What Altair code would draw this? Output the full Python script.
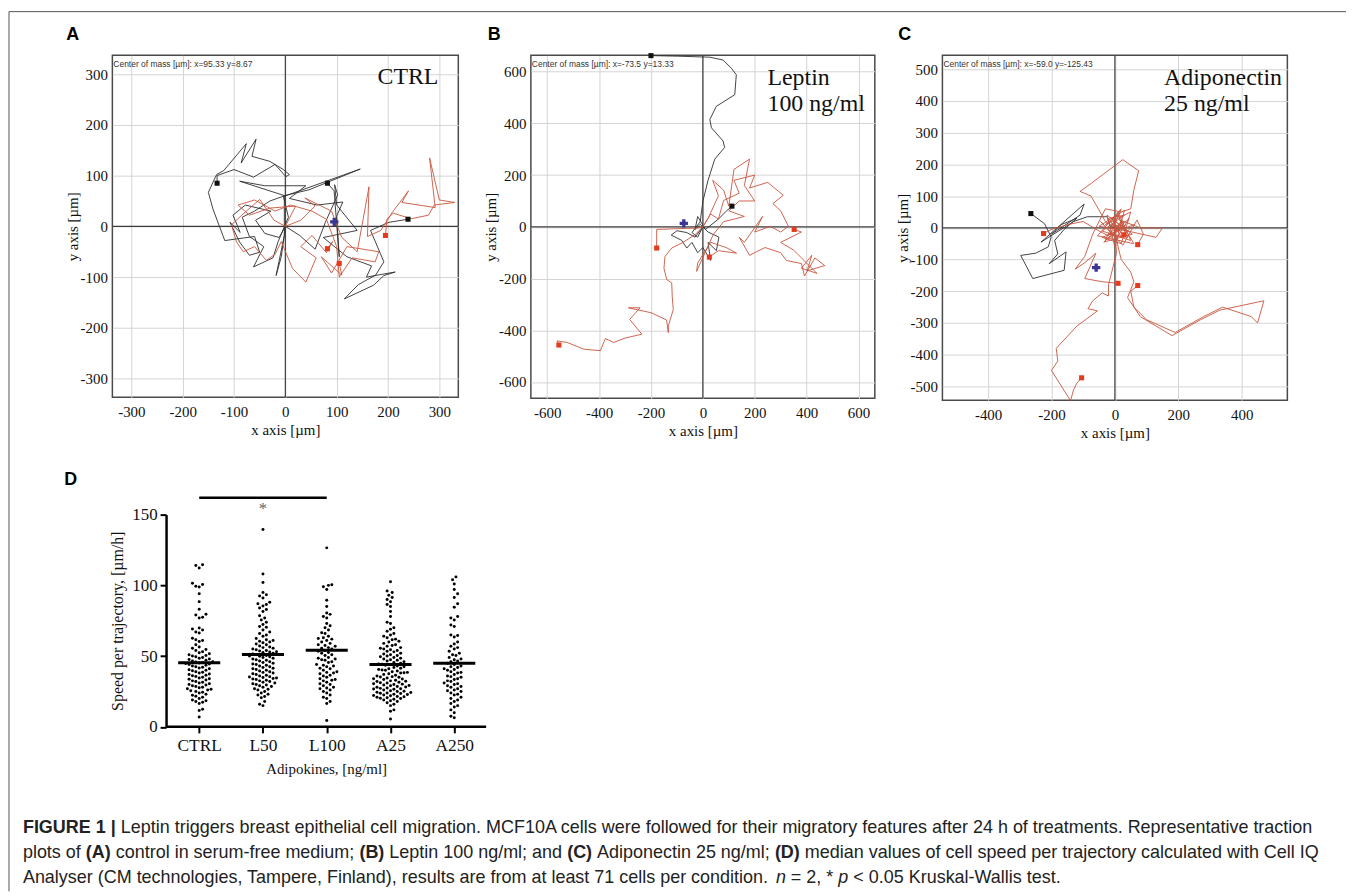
import json
import altair as alt
import pandas as pd

SERIF = "Liberation Serif"
SANS = "Liberation Sans"

# ---------------- Panel A (CTRL): trajectories (x, y) in µm ----------------
a_black_1 = [(0, 0), (-12, -22), (-40, -14), (-58, 12), (-28, 30), (-78, 42), (-102, 22), (-88, -12),
             (-108, 8), (-89, -31), (-70, -57), (-50, -51), (-60, -20), (-118, -28), (-141, 34), (-150, 67),
             (-134, 102), (-120, 110), (-76, 163), (-86, 125), (-57, 172), (-65, 138), (-30, 128), (-4, 112),
             (8, 102), (1, 98), (-20, 122), (-62, 97), (-100, 112), (-133, 100), (-133, 85)]
a_black_2 = [(0, 0), (-2, -18), (-18, -97), (-8, -60), (-2, -18), (-2, 60), (-30, 50), (-60, 30), (-84, 18),
             (-70, -20), (-42, -40), (-62, -80), (-24, -62), (-14, -30), (6, 18), (-4, 60), (46, 72),
             (146, 113), (0, 60), (-89, 89), (-40, 80), (40, 80), (8, 55), (62, 42), (112, 48), (100, 20),
             (105, -60), (95, 70), (82, 85)]
a_black_3 = [(0, 0), (28, -18), (58, -45), (78, 8), (102, 62), (96, 82), (100, 42), (140, -8), (74, -22),
             (120, -60), (168, -78), (158, -100), (214, -90), (192, -97), (172, -116), (115, -143),
             (142, -115), (176, -96), (192, -70), (166, -8), (202, 8), (239, 14)]
a_red_1 = [(0, 0), (30, 12), (58, 40), (38, 56), (90, 30), (110, -22), (140, -50), (163, 78), (160, -20),
           (186, -8), (208, 27), (240, 70), (227, 47), (292, 37), (281, 135), (300, 52), (330, 47),
           (290, 42), (279, 22), (245, 15), (210, 26), (198, 14), (195, -18)]
a_red_2 = [(0, 0), (-22, 12), (-50, 53), (-86, 21), (-105, 3), (-95, -31), (-82, -50), (-60, -40),
           (-37, -67), (-20, -55), (-8, -30), (14, -83), (40, -110), (60, -62), (30, -40), (52, -18),
           (80, -52), (92, -30), (82, -44)]
a_red_3 = [(0, 0), (20, 40), (-30, 36), (-70, 22), (-92, 42), (-60, 52), (-20, 30), (10, 42), (52, 30),
           (80, 14), (100, -40), (105, -100), (130, -62), (175, -70), (182, -50), (120, -40), (90, -92),
           (70, -60), (110, -96), (105, -73)]
a_center = (95.33, 8.67)

# ---------------- Panel B (Leptin 100 ng/ml) ----------------
b_black_1 = [(0, 0), (-20, -40), (-42, -22), (-10, 20), (-5, 62), (1, 102), (20, 180), (46, 262), (84, 307),
             (78, 332), (33, 383), (27, 415), (52, 466), (123, 511), (129, 588), (110, 613), (78, 645),
             (27, 656), (-100, 660), (-200, 662)]
b_black_2 = [(0, 0), (-30, -40), (-62, -22), (-100, -15), (-122, -32), (-82, -52), (-62, -82), (-42, -60),
             (-20, -100), (0, -80), (30, -130), (20, -60), (52, -92), (62, -40), (20, -20), (-10, 10),
             (-30, -10), (-20, 40), (10, -10), (60, 30), (90, 60), (112, 80)]
b_red_1 = [(0, 0), (-30, -30), (-80, -62), (-120, -82), (-146, -115), (-150, -160), (-139, -204),
           (-120, -217), (-118, -270), (-114, -320), (-133, -383), (-133, -409), (-140, -360), (-200, -332),
           (-287, -313), (-242, -313), (-282, -358), (-235, -415), (-300, -430), (-344, -447), (-376, -432),
           (-395, -479), (-459, -473), (-523, -447), (-562, -441), (-555, -457)]
b_red_2 = [(0, 0), (-20, -5), (-60, -6), (-120, -8), (-178, -10), (-178, -82)]
b_red_3 = [(0, 0), (20, 32), (60, 120), (38, 180), (80, 142), (100, 80), (120, 222), (180, 262), (160, 160),
           (200, 100), (140, 100), (100, 62), (160, 40), (80, 20), (40, -30), (-24, -172), (-20, -140),
           (30, -60), (90, -80), (130, -102), (60, -92), (25, -117)]
b_red_4 = [(0, 0), (30, 50), (60, 30), (80, 102), (140, 130), (120, 180), (200, 200), (180, 150), (250, 172),
           (310, 122), (270, 90), (300, 62), (330, 2), (300, -20), (260, 2), (200, -20), (230, 40), (160, -60),
           (140, -40), (180, -110), (240, -80), (300, -100), (322, -130), (380, -142), (392, -190),
           (432, -120), (470, -150), (402, -170), (420, -110), (380, -160), (440, -180), (350, -90),
           (300, -60), (380, -20), (352, -10)]
b_center = (-73.5, 13.33)

# ---------------- Panel C (Adiponectin 25 ng/ml) ----------------
c_black_1 = [(0, 0), (-15, 5), (-24, 35), (-87, 35), (-130, 20), (-233, -45), (-97, 75), (-110, 40),
             (-200, -20), (-170, 10), (-120, 30), (-160, -5), (-190, -40), (-180, -82), (-207, -113),
             (-154, -76), (-160, -134), (-259, -160), (-297, -87), (-250, -80), (-210, -60), (-201, -29),
             (-222, 13), (-265, 45)]
c_red_1 = [(0, 0), (20, 20), (-10, -30), (-50, -10), (-100, 20), (-150, 10), (-200, -5), (-225, -18)]
c_red_2 = [(0, 0), (30, 20), (-20, -20), (40, -30), (10, 40), (-30, 10), (50, 50), (20, -50), (-40, -30),
           (60, 10), (20, -30), (-10, 30), (40, -10), (-50, 5), (30, 55), (0, -60), (-25, 40), (55, -20),
           (-35, -45), (45, 30), (5, -35), (-45, 20), (25, -55), (70, 25), (90, -20), (72, -53)]
c_red_3 = [(0, 0), (-30, 20), (-75, 100), (-110, 115), (-75, 140), (25, 215), (75, 180), (60, 120), (50, 60),
           (20, 50), (-30, 60), (-70, -20), (-95, -90), (-125, -130), (-95, -110), (-60, -80), (-95, -160),
           (-40, -170), (10, -175)]
c_red_4 = [(0, 0), (10, -60), (20, -100), (50, -140), (60, -170), (40, -220), (80, -280), (180, -340),
           (270, -290), (330, -260), (470, -230), (450, -300), (430, -280), (340, -250), (280, -280),
           (190, -330), (100, -290), (60, -250), (50, -200), (72, -182)]
c_red_5 = [(0, 0), (5, -80), (-20, -180), (-20, -215), (-40, -205), (-70, -230), (-85, -255), (-55, -262),
           (-120, -310), (-185, -380), (-180, -420), (-200, -450), (-140, -545), (-130, -510), (-120, -490),
           (-105, -473)]
c_red_6 = [(0, 0), (-20, 30), (30, 40), (-40, -10), (50, -40), (10, 50), (-30, -40), (35, 10), (-15, -20),
           (20, 60), (-55, -25), (60, -50), (15, 25), (80, 0), (150, 0), (130, -30), (40, -10), (-10, 15),
           (28, -22)]
c_center = (-59.0, -125.43)

# ---------------- Panel D: speed per trajectory [µm/h] ----------------
categories = ["CTRL", "L50", "L100", "A25", "A250"]
ctrl_speed = [114.5, 114.0, 112.3, 101.5, 100.6, 99.4, 98.9, 94.0, 88.4, 83.2, 79.6, 79.0, 77.5, 77.0, 69.8,
              69.1, 68.4, 67.0, 66.4, 62.6, 61.5, 61.0, 60.4, 58.1, 56.4, 55.6, 54.6, 54.0, 53.1, 52.4, 51.6,
              51.0, 50.5, 50.0, 49.6, 49.1, 48.5, 48.0, 47.6, 47.0, 46.6, 46.1, 45.9, 45.5, 45.1, 44.8, 44.5,
              44.0, 43.6, 43.0, 42.5, 42.1, 41.6, 41.0, 40.4, 40.0, 39.6, 39.0, 38.6, 38.0, 37.4, 37.0, 36.5,
              36.1, 35.6, 35.0, 34.5, 34.0, 33.6, 33.1, 32.5, 32.0, 31.6, 31.0, 30.4, 30.0, 29.6, 29.1, 28.5,
              28.0, 27.6, 27.0, 26.5, 26.1, 25.6, 25.0, 24.4, 24.0, 23.1, 22.4, 21.6, 21.0, 20.1, 19.0, 18.5,
              18.0, 17.4, 16.5, 12.4, 11.6, 7.0]
l50_speed = [139.5, 108.0, 102.0, 95.0, 93.4, 92.5, 91.0, 88.1, 87.0, 86.5, 85.4, 84.0, 83.0, 81.5, 78.5,
             77.0, 75.5, 74.0, 72.4, 71.0, 70.4, 68.5, 67.1, 66.0, 65.0, 64.1, 62.5, 61.5, 61.0, 60.5, 60.0,
             59.5, 58.5, 58.0, 57.1, 56.5, 56.0, 55.5, 55.0, 54.5, 54.0, 53.6, 53.1, 52.9, 52.5, 52.0, 51.5,
             51.0, 50.5, 50.1, 49.9, 49.5, 49.0, 48.5, 48.0, 47.5, 47.0, 46.5, 46.0, 45.5, 45.0, 44.5, 44.0,
             43.5, 43.0, 42.5, 42.0, 41.5, 41.0, 40.5, 40.0, 39.5, 39.0, 38.5, 38.0, 37.5, 37.0, 36.5, 36.0,
             35.5, 35.2, 34.9, 34.5, 34.1, 33.9, 33.5, 33.0, 32.5, 32.0, 31.5, 31.0, 30.5, 30.0, 29.5, 29.0,
             28.5, 28.0, 27.0, 26.5, 26.0, 25.0, 24.0, 23.0, 22.5, 21.5, 20.5, 18.0, 16.0, 15.0]
l100_speed = [126.5, 100.5, 100.0, 99.0, 97.0, 89.5, 85.0, 80.5, 79.5, 78.0, 77.0, 73.0, 71.5, 70.0, 68.5,
              66.5, 66.0, 64.0, 63.0, 62.5, 62.0, 61.0, 60.0, 59.0, 58.0, 57.5, 57.0, 56.0, 55.5, 55.0, 54.0,
              53.5, 52.5, 52.0, 51.0, 50.5, 49.0, 48.5, 48.0, 47.5, 47.0, 46.0, 45.5, 44.0, 43.5, 43.0, 42.5,
              41.5, 41.0, 40.0, 39.0, 38.5, 38.0, 37.5, 36.5, 36.0, 35.0, 34.0, 33.5, 33.0, 32.5, 31.5, 30.5,
              30.0, 29.0, 28.0, 27.5, 27.0, 26.0, 25.0, 24.0, 22.5, 21.0, 20.0, 18.0, 16.5, 4.5]
a25_speed = [102.5, 96.0, 95.0, 93.0, 91.5, 90.0, 88.5, 86.5, 85.0, 81.5, 78.0, 74.0, 73.0, 70.0, 69.0, 67.5,
             66.0, 65.0, 64.0, 63.0, 62.0, 61.5, 60.5, 60.0, 59.0, 58.0, 57.5, 57.0, 56.0, 55.5, 55.0, 54.5,
             54.0, 53.5, 53.0, 52.0, 51.5, 51.0, 50.5, 50.0, 49.5, 49.0, 48.5, 48.0, 47.5, 47.0, 46.5, 46.0,
             45.5, 45.0, 44.5, 44.2, 44.0, 43.5, 43.0, 42.5, 42.0, 41.5, 41.0, 40.5, 40.2, 40.0, 39.5, 39.0,
             38.5, 38.2, 38.0, 37.5, 37.0, 36.5, 36.0, 35.5, 35.2, 35.0, 34.5, 34.0, 33.8, 33.5, 33.0, 32.5,
             32.2, 32.0, 31.5, 31.2, 31.0, 30.5, 30.2, 30.0, 29.5, 29.2, 29.0, 28.5, 28.2, 28.0, 27.5, 27.2,
             27.0, 26.8, 26.5, 26.0, 25.5, 25.2, 25.0, 24.5, 24.2, 24.0, 23.7, 23.5, 23.0, 22.8, 22.5, 22.2,
             22.0, 21.5, 21.2, 21.0, 20.5, 20.2, 20.0, 19.5, 19.0, 18.5, 18.0, 17.0, 16.0, 15.0, 12.0, 11.0,
             5.5]
a250_speed = [106.0, 104.0, 101.0, 97.0, 94.0, 91.5, 87.0, 84.5, 78.0, 77.0, 75.5, 72.0, 71.0, 65.0, 64.5,
              63.5, 60.0, 58.5, 57.0, 56.0, 55.0, 53.5, 52.0, 51.0, 50.5, 49.0, 48.0, 47.5, 46.5, 46.0, 45.0,
              44.0, 43.0, 42.5, 42.0, 41.0, 40.5, 40.0, 39.0, 38.5, 38.0, 37.0, 36.0, 35.5, 35.0, 34.0, 33.5,
              32.5, 32.0, 31.0, 30.5, 30.0, 29.0, 28.5, 28.0, 27.0, 26.0, 25.5, 25.0, 24.0, 23.0, 22.5, 21.0,
              20.0, 19.0, 18.0, 16.5, 15.0, 14.0, 12.0, 10.0, 7.5, 6.5]
medians = [45.3, 51.2, 54.2, 44.0, 45.0]
significance_pair = (0, 2)   # CTRL vs L100
significance_label = "*"

caption_lines = [
    [("FIGURE 1 |", "bold"),
     ("Leptin triggers breast epithelial cell migration. MCF10A cells were followed for their migratory "
      "features after 24 h of treatments. Representative traction", "normal")],
    [("plots of", "normal"), ("(A)", "bold"), ("control in serum-free medium;", "normal"), ("(B)", "bold"),
     ("Leptin 100 ng/ml; and", "normal"), ("(C)", "bold"), ("Adiponectin 25 ng/ml;", "normal"),
     ("(D)", "bold"), ("median values of cell speed per trajectory calculated with Cell IQ", "normal")],
    [("Analyser (CM technologies, Tampere, Finland), results are from at least 71 cells per condition.",
      "normal"), ("n", "italic"), ("= 2, *", "normal"), ("p", "italic"),
     ("< 0.05 Kruskal-Wallis test.", "normal")],
]

# ---------------- layout constants (page pixels) ----------------
COL1_X, ROW1_Y = 112, 52          # top-left of panel A plot area
D_LEFT, D_TOP = 166, 514          # D axes corner (x) and top of y range
CAPTION_LEFT, CAPTION_RIGHT = 22, 1321
CAPTION_Y = [829, 854.5, 880]
ONE = pd.DataFrame({"a": [0]})

# Arial / Liberation Sans advance widths (1/1000 em) for laying out caption segments
_W = {" ": 278, "(": 333, ")": 333, "*": 389, ",": 278, "-": 333, ".": 278, "/": 278, ";": 278, "<": 584,
      "=": 584, "|": 260, ":": 278, "µ": 556}
_W.update({d: 556 for d in "0123456789"})
_W.update(dict(zip("ABCDEFGHIJKLMNOPQRSTUVWXYZ",
                   [667, 667, 722, 722, 667, 611, 778, 722, 278, 500, 667, 556, 833, 722, 778, 667, 778, 722,
                    667, 611, 722, 667, 944, 667, 667, 611])))
_W.update(dict(zip("abcdefghijklmnopqrstuvwxyz",
                   [556, 556, 500, 556, 556, 278, 556, 556, 222, 222, 500, 222, 833, 556, 556, 556, 556, 333,
                    500, 278, 556, 500, 722, 500, 500, 500])))
_WB = dict(_W)
_WB.update({"|": 280, "A": 722, "B": 722, "C": 722, "D": 722, "E": 667, "F": 611, "G": 778, "I": 278,
            "R": 722, "U": 722})


def text_units(txt, style):
    table = _WB if style == "bold" else _W
    return sum(table.get(ch, 556) for ch in txt)


def line_units(segs):
    return sum(text_units(t, s) for t, s in segs) + _W[" "] * (len(segs) - 1)


CAP_FS = (CAPTION_RIGHT - CAPTION_LEFT) / line_units(caption_lines[0]) * 1000


def text_layer(txt, x, y, **kw):
    return alt.Chart(ONE).mark_text(text=txt, **kw).encode(x=alt.value(x), y=alt.value(y))


def axis_common(title, values, label_pad, title_pad):
    return alt.Axis(values=values, grid=True, gridColor="#d4d4d4", gridWidth=1, ticks=False, domain=False,
                    labelFont=SERIF, labelFontSize=15, labelColor="#111", labelPadding=label_pad,
                    labelExpr="'' + datum.value", labelFlush=False, labelOverlap=False,
                    title=title, titleFont=SERIF, titleFontSize=15, titleFontWeight="normal",
                    titleColor="#111", titlePadding=title_pad)


def traj_panel(tracks, center, dom, xt, yt, w, h, header, labels, letter, letter_xy):
    rows = []
    for name, kind, pts in tracks:
        for o, (x, y) in enumerate(pts):
            rows.append({"track": name, "kind": kind, "o": o, "x": x, "y": y})
    df = pd.DataFrame(rows)
    ends = df.groupby("track").tail(1)
    X = alt.X("x:Q", scale=alt.Scale(domain=dom, nice=False, zero=False),
              axis=axis_common("x axis [µm]", xt, 7, 3))
    Y = alt.Y("y:Q", scale=alt.Scale(domain=dom, nice=False, zero=False),
              axis=axis_common("y axis [µm]", yt, 5, 0))
    layers = [
        alt.Chart(pd.DataFrame({"x": [0]})).mark_rule(color="#3c3c3c", strokeWidth=1.2).encode(x=X),
        alt.Chart(pd.DataFrame({"y": [0]})).mark_rule(color="#3c3c3c", strokeWidth=1.2).encode(y=Y),
        alt.Chart(df[df.kind == "black"]).mark_line(color="#2e2e2e", strokeWidth=0.9).encode(
            x=X, y=Y, detail="track:N", order="o:Q"),
        alt.Chart(df[df.kind == "red"]).mark_line(color="#c8553d", strokeWidth=0.9).encode(
            x=X, y=Y, detail="track:N", order="o:Q"),
        alt.Chart(ends[ends.kind == "black"]).mark_square(color="#111111", size=26, opacity=1).encode(x=X, y=Y),
        alt.Chart(ends[ends.kind == "red"]).mark_square(color="#e63a1e", size=26, opacity=1).encode(x=X, y=Y),
        alt.Chart(pd.DataFrame({"x": [center[0]], "y": [center[1]]})).mark_point(
            shape="cross", filled=True, size=70, color="#3b3593", opacity=1).encode(x=X, y=Y),
        text_layer(header, 1, 9, font=SANS, fontSize=8.5, align="left", baseline="middle", color="#333"),
        text_layer(letter, letter_xy[0], letter_xy[1], font=SANS, fontSize=18, fontWeight="bold",
                   align="center", baseline="middle", color="#000"),
    ]
    for txt, lx, ly, al in labels:
        layers.append(text_layer(txt, lx, ly, font=SERIF, fontSize=24, align=al, baseline="alphabetic",
                                 color="#111"))
    return alt.layer(*layers).properties(
        width=w, height=h, view=alt.ViewBackground(stroke="#4a4a4a", strokeWidth=1.5))


panel_a = traj_panel(
    [("a1", "black", a_black_1), ("a2", "black", a_black_2), ("a3", "black", a_black_3),
     ("a4", "red", a_red_1), ("a5", "red", a_red_2), ("a6", "red", a_red_3)],
    a_center, [-337, 337], [-300, -200, -100, 0, 100, 200, 300], [-300, -200, -100, 0, 100, 200, 300],
    348, 344, "Center of mass [µm]: x=95.33 y=8.67", [("CTRL", 328, 29, "right")], "A", (-40, -20))

panel_b = traj_panel(
    [("b1", "black", b_black_1), ("b2", "black", b_black_2), ("b3", "red", b_red_1),
     ("b4", "red", b_red_2), ("b5", "red", b_red_3), ("b6", "red", b_red_4)],
    b_center, [-663, 663], [-600, -400, -200, 0, 200, 400, 600], [-600, -400, -200, 0, 200, 400, 600],
    346, 345, "Center of mass [µm]: x=-73.5 y=13.33",
    [("Leptin", 238, 30, "left"), ("100 ng/ml", 238, 56, "left")], "B", (-37, -20))

panel_c = traj_panel(
    [("c1", "black", c_black_1), ("c2", "red", c_red_1), ("c3", "red", c_red_2), ("c4", "red", c_red_3),
     ("c5", "red", c_red_4), ("c6", "red", c_red_5), ("c7", "red", c_red_6)],
    c_center, [-544, 544], [-400, -200, 0, 200, 400],
    [-500, -400, -300, -200, -100, 0, 100, 200, 300, 400, 500],
    347, 347, "Center of mass [µm]: x=-59.0 y=-125.43",
    [("Adiponectin", 223, 30, "left"), ("25 ng/ml", 223, 56, "left")], "C", (-38, -20))

# ---------------- Panel D: swarm scatter ----------------
D_W, D_H = 353, 213.5            # plot cell starts at COL1_X; axes corner is at D_LEFT
AX_W = 322                       # drawn x-axis length
X_LO, X_HI = -0.52, 4.5          # value range of the drawn x axis
PX_PER_X = AX_W / (X_HI - X_LO)
X_DOM = [X_LO - (D_LEFT - COL1_X) / PX_PER_X, X_LO - (D_LEFT - COL1_X) / PX_PER_X + D_W / PX_PER_X]
PX_PER_Y = D_H / 150.0
DOT_X, DOT_Y = 3.4, 4.8          # swarm packing distances (px)


def swarm_offsets(vals):
    order = sorted(range(len(vals)), key=lambda i: vals[i])
    placed, out = [], [0.0] * len(vals)
    flip = 1
    for i in order:
        y = vals[i] * PX_PER_Y
        near = [(py, px) for py, px in placed if abs(py - y) < DOT_Y]
        cands = [0.0]
        for k in range(1, 80):
            cands += [flip * k * DOT_X / 2, -flip * k * DOT_X / 2]
        for c in cands:
            if all(((px - c) / DOT_X) ** 2 + ((py - y) / DOT_Y) ** 2 >= 1 for py, px in near):
                out[i] = c
                break
        placed.append((y, out[i]))
        flip = -flip
    return out


drows = []
for gi, vals in enumerate([ctrl_speed, l50_speed, l100_speed, a25_speed, a250_speed]):
    offs = swarm_offsets(vals)
    for v, o in zip(vals, offs):
        drows.append({"xpos": gi + o / PX_PER_X, "val": v})
ddf = pd.DataFrame(drows)

label_expr = json.dumps(categories) + "[datum.value]"
XD = alt.X("xpos:Q", scale=alt.Scale(domain=X_DOM, nice=False, zero=False),
           axis=alt.Axis(values=list(range(len(categories))), labelExpr=label_expr, grid=False, domain=False,
                         tickSize=6, tickWidth=2, tickColor="#000",
                         labelFont=SERIF, labelFontSize=17.5, labelColor="#111", labelPadding=4,
                         labelFlush=False, title="Adipokines, [ng/ml]", titleFont=SERIF, titleFontSize=15,
                         titleFontWeight="normal", titleColor="#111", titlePadding=7,
                         titleX=(D_LEFT - COL1_X) + AX_W / 2, titleAlign="center"))
YD = alt.Y("val:Q", scale=alt.Scale(domain=[0, 150], nice=False, zero=True),
           axis=alt.Axis(values=[0, 50, 100, 150], grid=False, tickSize=6, tickWidth=2, tickColor="#000",
                         domainColor="#000", domainWidth=2.5, labelFont=SERIF, labelFontSize=17,
                         labelColor="#111", labelPadding=3, labelFlush=False, offset=-(D_LEFT - COL1_X),
                         title="Speed per trajectory, [µm/h]", titleFont=SERIF, titleFontSize=16,
                         titleFontWeight="normal", titleColor="#111", titlePadding=6))

med_df = pd.DataFrame({"xpos": [i - 0.33 for i in range(len(medians))],
                       "xpos2": [i + 0.33 for i in range(len(medians))], "val": medians})
sig_df = pd.DataFrame({"xpos": [significance_pair[0]], "xpos2": [significance_pair[1]], "val": [162]})
ast_df = pd.DataFrame({"xpos": [sum(significance_pair) / 2], "val": [154]})
xaxis_df = pd.DataFrame({"xpos": [X_LO], "xpos2": [X_HI], "val": [0]})

d_layers = [
    alt.Chart(ddf).mark_circle(size=9, color="#000", opacity=1).encode(x=XD, y=YD),
    alt.Chart(med_df).mark_rule(color="#000", strokeWidth=3).encode(x=XD, x2="xpos2:Q", y=YD),
    alt.Chart(sig_df).mark_rule(color="#000", strokeWidth=2.5).encode(x=XD, x2="xpos2:Q", y=YD),
    alt.Chart(xaxis_df).mark_rule(color="#000", strokeWidth=2.5).encode(x=XD, x2="xpos2:Q", y=YD),
    alt.Chart(ast_df).mark_text(text=significance_label, font=SERIF, fontSize=17, color="#666",
                                baseline="middle").encode(x=XD, y=YD),
    text_layer("D", 70 - COL1_X, 479 - D_TOP, font=SANS, fontSize=18, fontWeight="bold", align="center",
               baseline="middle", color="#000"),
]

# caption (laid out in page pixels, drawn relative to the D cell)
for li, segs in enumerate(caption_lines):
    cx = CAPTION_LEFT
    for txt, style in segs:
        kw = dict(font=SANS, fontSize=CAP_FS, align="left", baseline="middle", color="#222")
        if style == "bold":
            kw["fontWeight"] = "bold"
        if style == "italic":
            kw["fontStyle"] = "italic"
        d_layers.append(text_layer(txt, cx - COL1_X, CAPTION_Y[li] - D_TOP, **kw))
        cx += (text_units(txt, style) + _W[" "]) * CAP_FS / 1000
# figure frame (top and left edges)
d_layers.append(alt.Chart(ONE).mark_rule(color="#555", strokeWidth=1).encode(
    x=alt.value(8 - COL1_X), y=alt.value(8 - D_TOP), y2=alt.value(893 - D_TOP)))
d_layers.append(alt.Chart(ONE).mark_rule(color="#555", strokeWidth=1).encode(
    x=alt.value(8 - COL1_X), x2=alt.value(1353 - COL1_X), y=alt.value(8 - D_TOP)))

panel_d = alt.layer(*d_layers).properties(width=D_W, height=D_H, view=alt.ViewBackground(stroke=None))

chart = alt.concat(panel_a, panel_b, panel_c, panel_d, columns=3,
                   spacing={"row": D_TOP - ROW1_Y - 347, "column": 68}, bounds="flush").properties(
    padding=0, background="white")

chart.save("out.html", embed_options={"renderer": "svg", "actions": False})
